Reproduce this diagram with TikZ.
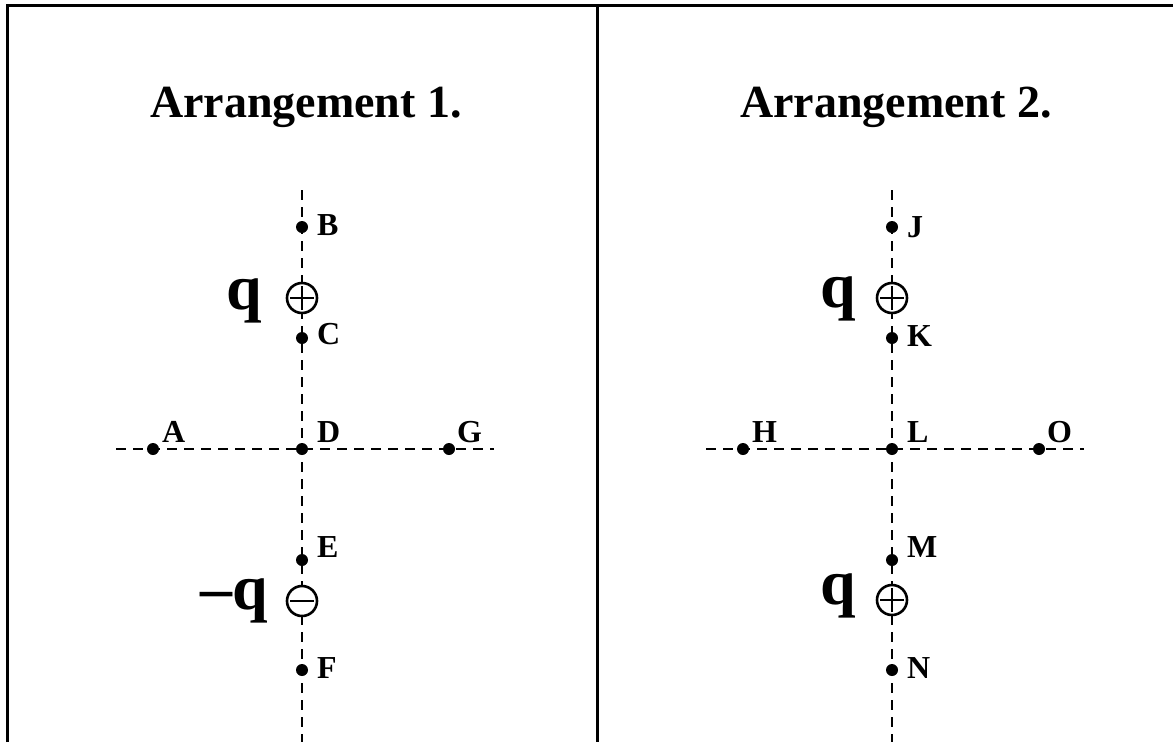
\documentclass[tikz,border=0pt]{standalone}
\usepackage{fontspec}
\setmainfont{Liberation Serif}
\begin{document}
\begin{tikzpicture}[x=1pt,y=-1pt,
  frame/.style={line width=3pt},
  axis/.style={line width=1.8pt,dash pattern=on 10pt off 7pt},
  pt/.style={circle,fill=black,inner sep=0pt,minimum size=12pt},
  charge/.style={circle,draw=black,line width=2.6pt,inner sep=0pt,minimum size=30pt,fill=white},
  sign/.style={line width=2.8pt},
  lbl/.style={font=\fontsize{32}{34}\selectfont\bfseries,inner sep=0pt,anchor=base west},
  qlbl/.style={font=\fontsize{64}{66}\selectfont\bfseries,inner sep=0pt,anchor=base west},
  title/.style={font=\fontsize{46}{52}\selectfont\bfseries,inner sep=0pt,anchor=base}]
\useasboundingbox (0,0) rectangle (1173,742);
\fill[white] (0,0) rectangle (1173,742);
% frame
\coordinate (tl) at (7,5);
\coordinate (tr) at (1173,5);
\coordinate (bl) at (7,742);
\coordinate (tm) at (597,5);
\coordinate (bm) at (597,742);
\draw[frame] (bl) -- (tl) -- (tr);
\draw[frame] (tm) -- (bm);
% titles
\node[title] (t1) at (306,117) {Arrangement 1.};
\node[title] (t2) at (896,117) {Arrangement 2.};
% axes left
\coordinate (v1t) at (302,190);
\coordinate (v1b) at (302,742);
\coordinate (h1l) at (116,449);
\coordinate (h1r) at (494,449);
\draw[axis] (v1t) -- (v1b);
\draw[axis] (h1l) -- (h1r);
% axes right
\coordinate (v2t) at (892,190);
\coordinate (v2b) at (892,742);
\coordinate (h2l) at (706,449);
\coordinate (h2r) at (1084,449);
\draw[axis] (v2t) -- (v2b);
\draw[axis] (h2l) -- (h2r);
% points left
\node[pt] (B) at (302,227) {};
\node[pt] (C) at (302,338) {};
\node[pt] (D) at (302,449) {};
\node[pt] (E) at (302,560) {};
\node[pt] (F) at (302,670) {};
\node[pt] (A) at (153,449) {};
\node[pt] (G) at (449,449) {};
\node[lbl] (lB) at (317,235) {B};
\node[lbl] (lC) at (317,344) {C};
\node[lbl] (lD) at (317,442) {D};
\node[lbl] (lA) at (162,442) {A};
\node[lbl] (lG) at (457,442) {G};
\node[lbl] (lE) at (317,557) {E};
\node[lbl] (lF) at (317,678) {F};
% charges left
\node[charge] (p1) at (302,298) {};
\draw[sign] ([xshift=-12pt]p1.center) -- ([xshift=12pt]p1.center) ([yshift=-12pt]p1.center) -- ([yshift=12pt]p1.center);
\node[charge] (m1) at (302,601) {};
\draw[sign] ([xshift=-12pt]m1.center) -- ([xshift=12pt]m1.center);
\node[qlbl] (q1) at (226,309) {q};
\node[qlbl] (q2) at (200,609) {\textendash q};
% points right
\node[pt] (J) at (892,227) {};
\node[pt] (K) at (892,338) {};
\node[pt] (L) at (892,449) {};
\node[pt] (M) at (892,560) {};
\node[pt] (N) at (892,670) {};
\node[pt] (H) at (743,449) {};
\node[pt] (O) at (1039,449) {};
\node[lbl] (lJ) at (907,237) {J};
\node[lbl] (lK) at (907,346) {K};
\node[lbl] (lL) at (907,442) {L};
\node[lbl] (lH) at (752,442) {H};
\node[lbl] (lO) at (1047,442) {O};
\node[lbl] (lM) at (907,557) {M};
\node[lbl] (lN) at (907,678) {N};
% charges right
\node[charge] (p2) at (892,298) {};
\draw[sign] ([xshift=-12pt]p2.center) -- ([xshift=12pt]p2.center) ([yshift=-12pt]p2.center) -- ([yshift=12pt]p2.center);
\node[charge] (p3) at (892,600) {};
\draw[sign] ([xshift=-12pt]p3.center) -- ([xshift=12pt]p3.center) ([yshift=-12pt]p3.center) -- ([yshift=12pt]p3.center);
\node[qlbl] (q3) at (820,307) {q};
\node[qlbl] (q4) at (820,604) {q};
\end{tikzpicture}
\end{document}
